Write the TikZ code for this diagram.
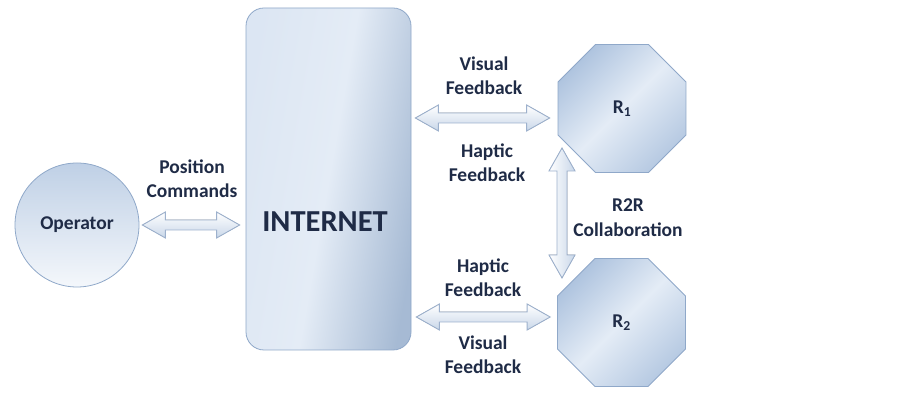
\documentclass[tikz,border=0pt]{standalone}
\usepackage{fontspec}
\setmainfont{Carlito}
\usetikzlibrary{shapes.geometric,calc}
\definecolor{txt}{HTML}{1F2B46}
\definecolor{edge}{HTML}{8FA8C9}
\definecolor{fillA}{HTML}{AFC4DF}
\definecolor{fillB}{HTML}{E4ECF6}
\definecolor{arrowedge}{HTML}{9DB1CD}
\definecolor{arrowfill}{HTML}{C9D7E9}
\def\ahl{23pt}\def\ahw{13pt}\def\asw{5pt}
\newcommand{\blockarrow}[3][]{%
  \filldraw[blockarr,#1] (#2)
   -- ($(#2)!\ahl!(#3)!\ahw!90:(#3)$)
   -- ($(#2)!\ahl!(#3)!\asw!90:(#3)$)
   -- ($(#3)!\ahl!(#2)!\asw!-90:(#2)$)
   -- ($(#3)!\ahl!(#2)!\ahw!-90:(#2)$)
   -- (#3)
   -- ($(#3)!\ahl!(#2)!\ahw!90:(#2)$)
   -- ($(#3)!\ahl!(#2)!\asw!90:(#2)$)
   -- ($(#2)!\ahl!(#3)!\asw!-90:(#3)$)
   -- ($(#2)!\ahl!(#3)!\ahw!-90:(#3)$)
   -- cycle;}
\begin{document}
\begin{tikzpicture}[x=1pt,y=1pt,
  lbl/.style={font=\bfseries\fontsize{19.5}{24.5}\selectfont, text=txt, align=center, inner sep=0pt},
  blockarr/.style={draw=arrowedge, line width=0.9pt, line join=miter, top color=white, bottom color=arrowfill},
  robot/.style={regular polygon, regular polygon sides=8, minimum size=138.5pt, inner sep=0pt,
     draw=edge, line width=0.8pt, shading=axis, left color=fillA, right color=fillA!90!white, middle color=fillB, shading angle=45,
     font=\bfseries\fontsize{19.5}{22}\selectfont, text=txt}]
\useasboundingbox (0,0) rectangle (916,398);
\fill[white] (0,0) rectangle (916,398);

\node[circle, minimum size=124pt, inner sep=0pt, draw=edge, line width=0.8pt,
      top color=fillA!80, bottom color=fillB!40!white, font=\bfseries\fontsize{19.5}{22}\selectfont, text=txt]
      (op) at (77,173) {Operator};

\node[rectangle, rounded corners=18pt, minimum width=165pt, minimum height=342pt, inner sep=0pt,
      draw=edge, line width=0.8pt, shading=axis, left color=fillB!85!fillA, right color=fillA!95!black, middle color=fillB,
      shading angle=80]
      (inet) at (328.5,219) {};
\node[font=\bfseries\fontsize{30.5}{34}\selectfont, text=txt, inner sep=0pt] (inettext) at (325,176) {INTERNET};

\node[robot] (r1) at (622,289.5) {R\textsubscript{1}};
\node[robot] (r2) at (621.5,75.5) {R\textsubscript{2}};

\coordinate (a1s) at ($(op.east)+(3,0)$);
\coordinate (a1e) at ($(inet.west |- op.east)+(-6,0)$);
\coordinate (a2s) at ($(inet.east)+(4,61)$);
\coordinate (a2e) at ($(r1.west)+(-8,-9.5)$);
\coordinate (a3s) at ($(inet.east)+(5,-138)$);
\coordinate (a3e) at ($(r2.west)+(-7,5.5)$);
\coordinate (a4s) at ($(r1.center)+(-60,-39.5)$);
\coordinate (a4e) at ($(r2.center)+(-59.5,44.5)$);

\blockarrow{a1s}{a1e}
\blockarrow{a2s}{a2e}
\blockarrow{a3s}{a3e}
\blockarrow[left color=white, right color=arrowfill]{a4s}{a4e}

\node[lbl] (lpos) at (192,219.5) {Position\\Commands};
\node[lbl] (lvis1) at (484,322.5) {Visual\\Feedback};
\node[lbl] (lhap1) at (487,235.5) {Haptic\\Feedback};
\node[lbl] (lhap2) at (483,120.5) {Haptic\\Feedback};
\node[lbl] (lvis2) at (483,43.5) {Visual\\Feedback};
\node[lbl] (lr2r) at (628,180.5) {R2R\\Collaboration};
\end{tikzpicture}
\end{document}
